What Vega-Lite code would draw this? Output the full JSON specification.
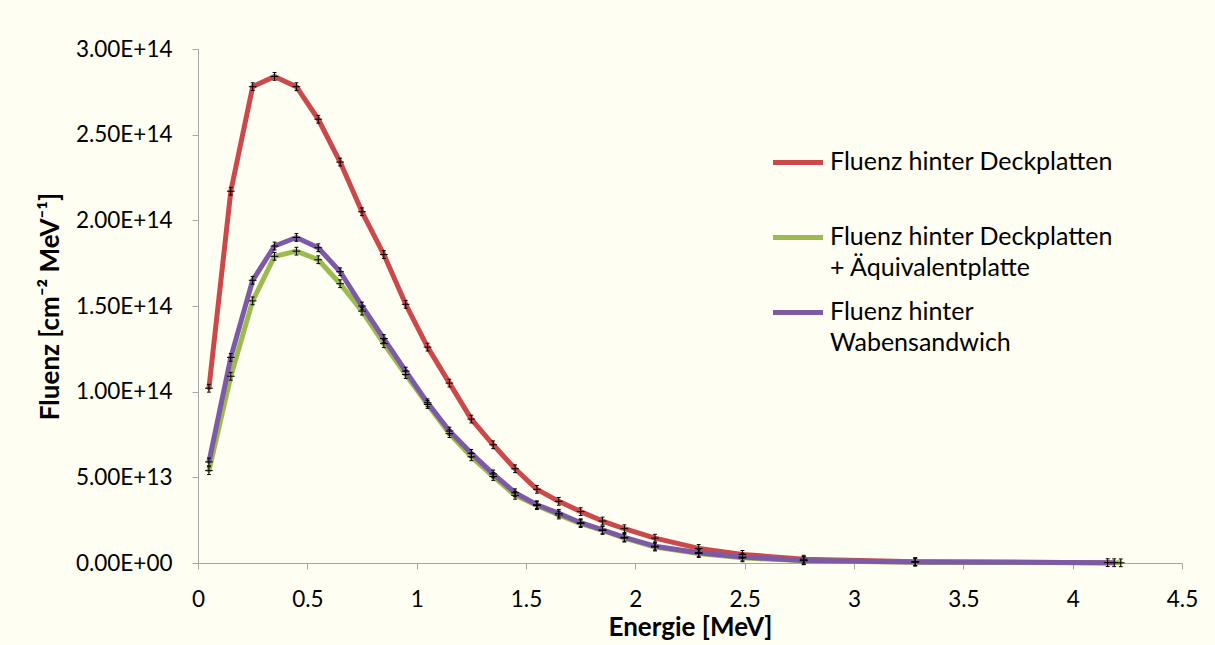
{
  "$schema": "https://vega.github.io/schema/vega-lite/v6.json",
  "autosize": "none",
  "width": 984,
  "height": 514,
  "padding": {"left": 198, "top": 49, "right": 33, "bottom": 82},
  "background": "#fefef2",
  "config": {
    "view": {"stroke": null},
    "font": "Lato",
    "axis": {"labelFont": "Lato", "titleFont": "Lato", "labelColor": "#000000", "titleColor": "#000000", "domainColor": "#a6a6a6", "tickColor": "#a6a6a6", "grid": false}
  },
  "data": {"values": [
    {"E": 0.05, "F": 1.02e14, "s": "Fluenz hinter Deckplatten"},
    {"E": 0.15, "F": 2.17e14, "s": "Fluenz hinter Deckplatten"},
    {"E": 0.25, "F": 2.78e14, "s": "Fluenz hinter Deckplatten"},
    {"E": 0.35, "F": 2.84e14, "s": "Fluenz hinter Deckplatten"},
    {"E": 0.45, "F": 2.78e14, "s": "Fluenz hinter Deckplatten"},
    {"E": 0.55, "F": 2.59e14, "s": "Fluenz hinter Deckplatten"},
    {"E": 0.65, "F": 2.34e14, "s": "Fluenz hinter Deckplatten"},
    {"E": 0.75, "F": 2.05e14, "s": "Fluenz hinter Deckplatten"},
    {"E": 0.85, "F": 1.80e14, "s": "Fluenz hinter Deckplatten"},
    {"E": 0.95, "F": 1.51e14, "s": "Fluenz hinter Deckplatten"},
    {"E": 1.05, "F": 1.26e14, "s": "Fluenz hinter Deckplatten"},
    {"E": 1.15, "F": 1.05e14, "s": "Fluenz hinter Deckplatten"},
    {"E": 1.25, "F": 8.4e13, "s": "Fluenz hinter Deckplatten"},
    {"E": 1.35, "F": 6.9e13, "s": "Fluenz hinter Deckplatten"},
    {"E": 1.45, "F": 5.5e13, "s": "Fluenz hinter Deckplatten"},
    {"E": 1.55, "F": 4.3e13, "s": "Fluenz hinter Deckplatten"},
    {"E": 1.65, "F": 3.6e13, "s": "Fluenz hinter Deckplatten"},
    {"E": 1.75, "F": 3.0e13, "s": "Fluenz hinter Deckplatten"},
    {"E": 1.85, "F": 2.45e13, "s": "Fluenz hinter Deckplatten"},
    {"E": 1.95, "F": 2.0e13, "s": "Fluenz hinter Deckplatten"},
    {"E": 2.09, "F": 1.45e13, "s": "Fluenz hinter Deckplatten"},
    {"E": 2.29, "F": 8.5e12, "s": "Fluenz hinter Deckplatten"},
    {"E": 2.49, "F": 5.0e12, "s": "Fluenz hinter Deckplatten"},
    {"E": 2.77, "F": 2.2e12, "s": "Fluenz hinter Deckplatten"},
    {"E": 3.28, "F": 8.0e11, "s": "Fluenz hinter Deckplatten"},
    {"E": 4.16, "F": 2.0e11, "s": "Fluenz hinter Deckplatten"},
    {"E": 0.05, "F": 5.39e13, "s": "Fluenz hinter Deckplatten + Äquivalentplatte"},
    {"E": 0.15, "F": 1.09e14, "s": "Fluenz hinter Deckplatten + Äquivalentplatte"},
    {"E": 0.25, "F": 1.53e14, "s": "Fluenz hinter Deckplatten + Äquivalentplatte"},
    {"E": 0.35, "F": 1.79e14, "s": "Fluenz hinter Deckplatten + Äquivalentplatte"},
    {"E": 0.45, "F": 1.82e14, "s": "Fluenz hinter Deckplatten + Äquivalentplatte"},
    {"E": 0.55, "F": 1.77e14, "s": "Fluenz hinter Deckplatten + Äquivalentplatte"},
    {"E": 0.65, "F": 1.63e14, "s": "Fluenz hinter Deckplatten + Äquivalentplatte"},
    {"E": 0.75, "F": 1.47e14, "s": "Fluenz hinter Deckplatten + Äquivalentplatte"},
    {"E": 0.85, "F": 1.28e14, "s": "Fluenz hinter Deckplatten + Äquivalentplatte"},
    {"E": 0.95, "F": 1.10e14, "s": "Fluenz hinter Deckplatten + Äquivalentplatte"},
    {"E": 1.05, "F": 9.25e13, "s": "Fluenz hinter Deckplatten + Äquivalentplatte"},
    {"E": 1.15, "F": 7.55e13, "s": "Fluenz hinter Deckplatten + Äquivalentplatte"},
    {"E": 1.25, "F": 6.2e13, "s": "Fluenz hinter Deckplatten + Äquivalentplatte"},
    {"E": 1.35, "F": 5.05e13, "s": "Fluenz hinter Deckplatten + Äquivalentplatte"},
    {"E": 1.45, "F": 3.95e13, "s": "Fluenz hinter Deckplatten + Äquivalentplatte"},
    {"E": 1.55, "F": 3.35e13, "s": "Fluenz hinter Deckplatten + Äquivalentplatte"},
    {"E": 1.65, "F": 2.8e13, "s": "Fluenz hinter Deckplatten + Äquivalentplatte"},
    {"E": 1.75, "F": 2.3e13, "s": "Fluenz hinter Deckplatten + Äquivalentplatte"},
    {"E": 1.85, "F": 1.9e13, "s": "Fluenz hinter Deckplatten + Äquivalentplatte"},
    {"E": 1.95, "F": 1.45e13, "s": "Fluenz hinter Deckplatten + Äquivalentplatte"},
    {"E": 2.09, "F": 9.3e12, "s": "Fluenz hinter Deckplatten + Äquivalentplatte"},
    {"E": 2.29, "F": 5.5e12, "s": "Fluenz hinter Deckplatten + Äquivalentplatte"},
    {"E": 2.49, "F": 3.0e12, "s": "Fluenz hinter Deckplatten + Äquivalentplatte"},
    {"E": 2.77, "F": 1.3e12, "s": "Fluenz hinter Deckplatten + Äquivalentplatte"},
    {"E": 3.28, "F": 5.0e11, "s": "Fluenz hinter Deckplatten + Äquivalentplatte"},
    {"E": 4.22, "F": 1.0e11, "s": "Fluenz hinter Deckplatten + Äquivalentplatte"},
    {"E": 0.05, "F": 5.9e13, "s": "Fluenz hinter Wabensandwich"},
    {"E": 0.15, "F": 1.20e14, "s": "Fluenz hinter Wabensandwich"},
    {"E": 0.25, "F": 1.65e14, "s": "Fluenz hinter Wabensandwich"},
    {"E": 0.35, "F": 1.85e14, "s": "Fluenz hinter Wabensandwich"},
    {"E": 0.45, "F": 1.90e14, "s": "Fluenz hinter Wabensandwich"},
    {"E": 0.55, "F": 1.84e14, "s": "Fluenz hinter Wabensandwich"},
    {"E": 0.65, "F": 1.70e14, "s": "Fluenz hinter Wabensandwich"},
    {"E": 0.75, "F": 1.50e14, "s": "Fluenz hinter Wabensandwich"},
    {"E": 0.85, "F": 1.31e14, "s": "Fluenz hinter Wabensandwich"},
    {"E": 0.95, "F": 1.12e14, "s": "Fluenz hinter Wabensandwich"},
    {"E": 1.05, "F": 9.35e13, "s": "Fluenz hinter Wabensandwich"},
    {"E": 1.15, "F": 7.7e13, "s": "Fluenz hinter Wabensandwich"},
    {"E": 1.25, "F": 6.4e13, "s": "Fluenz hinter Wabensandwich"},
    {"E": 1.35, "F": 5.2e13, "s": "Fluenz hinter Wabensandwich"},
    {"E": 1.45, "F": 4.1e13, "s": "Fluenz hinter Wabensandwich"},
    {"E": 1.55, "F": 3.4e13, "s": "Fluenz hinter Wabensandwich"},
    {"E": 1.65, "F": 2.9e13, "s": "Fluenz hinter Wabensandwich"},
    {"E": 1.75, "F": 2.35e13, "s": "Fluenz hinter Wabensandwich"},
    {"E": 1.85, "F": 1.93e13, "s": "Fluenz hinter Wabensandwich"},
    {"E": 1.95, "F": 1.5e13, "s": "Fluenz hinter Wabensandwich"},
    {"E": 2.09, "F": 9.8e12, "s": "Fluenz hinter Wabensandwich"},
    {"E": 2.29, "F": 6.0e12, "s": "Fluenz hinter Wabensandwich"},
    {"E": 2.49, "F": 3.5e12, "s": "Fluenz hinter Wabensandwich"},
    {"E": 2.77, "F": 1.5e12, "s": "Fluenz hinter Wabensandwich"},
    {"E": 3.28, "F": 6.0e11, "s": "Fluenz hinter Wabensandwich"},
    {"E": 4.19, "F": 1.5e11, "s": "Fluenz hinter Wabensandwich"}
  ]},
  "encoding": {
    "x": {"field": "E", "type": "quantitative",
      "scale": {"domain": [0, 4.5], "nice": false, "zero": false},
      "axis": {"title": "Energie [MeV]", "values": [0, 0.5, 1, 1.5, 2, 2.5, 3, 3.5, 4, 4.5], "format": "~g", "labelFontSize": 22.5, "titleFontSize": 26, "titleFontWeight": "bold", "tickSize": 6, "labelPadding": 19, "titlePadding": 4, "labelFlush": false, "labelOverlap": false}},
    "y": {"field": "F", "type": "quantitative",
      "scale": {"domain": [0, 3e14], "nice": false},
      "axis": {"title": "Fluenz [cm⁻² MeV⁻¹]", "values": [0, 5e13, 1e14, 1.5e14, 2e14, 2.5e14, 3e14], "labelFontSize": 22.5, "titleFontSize": 26, "titleFontWeight": "bold", "tickSize": 6, "labelPadding": 20, "titlePadding": 12,
        "labelExpr": "datum.value == 0 ? '0.00E+00' : format(datum.value / pow(10, floor(log(datum.value) / LN10 + 1e-9)), '.2f') + 'E+' + floor(log(datum.value) / LN10 + 1e-9)"}}
  },
  "layer": [
    {
      "mark": {"type": "line", "strokeWidth": 5, "strokeJoin": "round"},
      "encoding": {
        "color": {"field": "s", "type": "nominal",
          "scale": {"domain": ["Fluenz hinter Deckplatten", "Fluenz hinter Deckplatten + Äquivalentplatte", "Fluenz hinter Wabensandwich"], "range": ["#cb484b", "#9bbb4f", "#7d5aa6"]},
          "legend": {"title": null, "orient": "none", "legendX": 585, "legendY": 86, "symbolType": "M-2,1L2,1", "symbolStrokeWidth": 5, "symbolSize": 625, "labelFontSize": 25, "labelFont": "Lato", "labelColor": "#000000", "labelLimit": 400, "labelBaseline": "top", "rowPadding": 4, "labelOffset": 17,
            "labelExpr": "datum.label == 'Fluenz hinter Deckplatten' ? ['Fluenz hinter Deckplatten', ' '] : datum.label == 'Fluenz hinter Wabensandwich' ? ['Fluenz hinter', 'Wabensandwich'] : ['Fluenz hinter Deckplatten', '+ Äquivalentplatte']",
            "encode": {"labels": {"update": {"lineHeight": {"value": 31}}}}}},
        "order": {"field": "E", "type": "quantitative"}
      }
    },
    {
      "mark": {"type": "point", "shape": "diamond", "filled": true, "size": 30, "opacity": 1},
      "encoding": {
        "color": {"field": "s", "type": "nominal", "legend": null}
      }
    },
    {
      "mark": {"type": "point", "shape": "M-0.5,-1L0.5,-1M0,-1L0,1M-0.5,1L0.5,1M-1,0L1,0", "filled": false, "size": 60, "stroke": "#000000", "strokeWidth": 1, "opacity": 1},
      "encoding": {}
    }
  ]
}
